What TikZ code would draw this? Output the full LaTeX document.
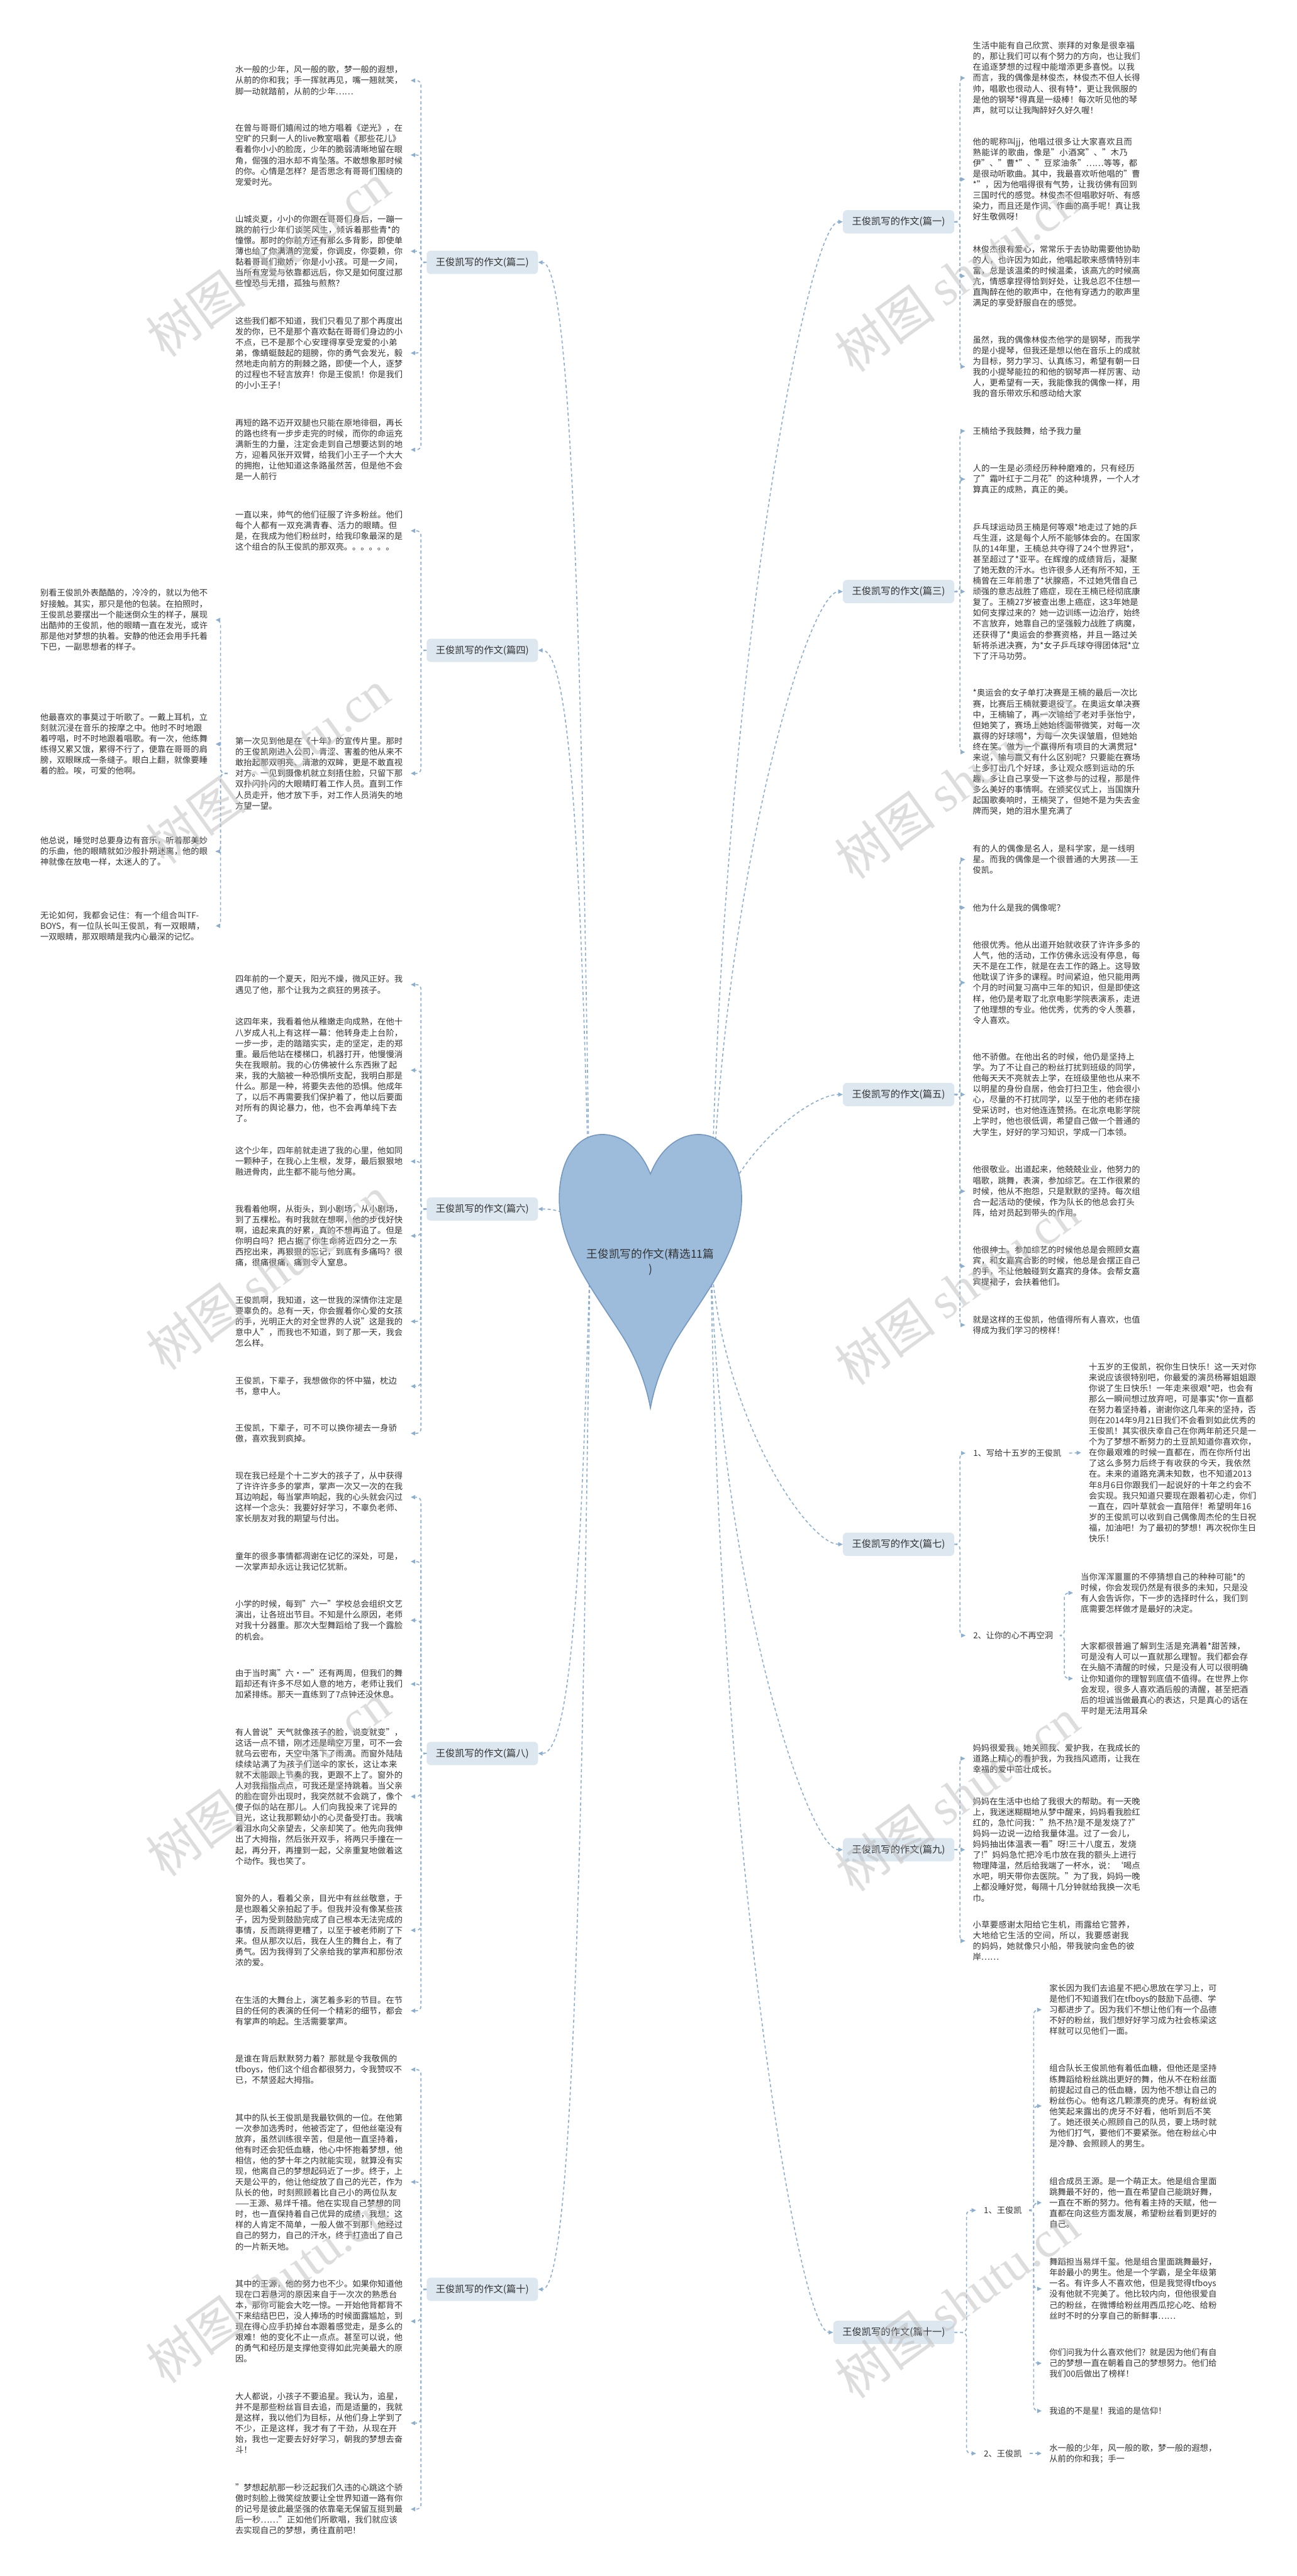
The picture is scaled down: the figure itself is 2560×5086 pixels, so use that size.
\documentclass[tikz,border=0pt]{standalone}
\usepackage{fontspec}
\setmainfont{Noto Sans CJK SC}
\newfontfamily\wmserif{Liberation Serif}
\XeTeXlinebreaklocale "zh"
\XeTeXlinebreakskip=0pt plus 1pt
\usetikzlibrary{arrows.meta,calc}
\definecolor{conncol}{HTML}{8DAFCF}
\definecolor{nodefill}{HTML}{DDE7F0}
\definecolor{heartfill}{HTML}{9DBCDB}
\definecolor{heartdraw}{HTML}{7598C0}
\definecolor{txtcol}{HTML}{333333}
\definecolor{wmcol}{HTML}{BDBDBD}
\tikzset{
  txt/.style={font=\fontsize{16.5pt}{21.2pt}\selectfont, text=txtcol, text width=331pt, align=left, inner xsep=15pt, inner ysep=2pt},
  sub/.style={font=\fontsize{16.5pt}{21.2pt}\selectfont, text=txtcol, inner xsep=15pt, inner ysep=4pt},
  branch/.style={fill=nodefill, rounded corners=8pt, font=\fontsize{19pt}{23pt}\selectfont, text=txtcol, inner xsep=18pt, minimum height=46pt},
  conn/.style={draw=conncol, line width=2pt, dash pattern=on 6pt off 5pt, rounded corners=9pt, -{Triangle[length=9pt,width=8pt]}},
  hconn/.style={draw=conncol, line width=2pt, dash pattern=on 6pt off 5pt, -{Triangle[length=9pt,width=8pt]}},
  wm/.style={text=wmcol, opacity=0.5, rotate=36, anchor=south west, font=\fontsize{100pt}{100pt}\selectfont},
}
\begin{document}
\begin{tikzpicture}[x=1pt,y=-1pt]
\useasboundingbox (0,0) rectangle (2560,5086);
\fill[white] (0,0) rectangle (2560,5086);

% ---------- branch nodes ----------
\node[branch, anchor=west] (n2) at (842,518) {王俊凯写的作文(篇二)};
\node[branch, anchor=west] (n4) at (842,1284) {王俊凯写的作文(篇四)};
\node[branch, anchor=west] (n6) at (842,2387) {王俊凯写的作文(篇六)};
\node[branch, anchor=west] (n8) at (842,3462) {王俊凯写的作文(篇八)};
\node[branch, anchor=west] (n10) at (842,4520) {王俊凯写的作文(篇十)};
\node[branch, anchor=east] (n1) at (1884,438) {王俊凯写的作文(篇一)};
\node[branch, anchor=east] (n3) at (1884,1168) {王俊凯写的作文(篇三)};
\node[branch, anchor=east] (n5) at (1884,2161) {王俊凯写的作文(篇五)};
\node[branch, anchor=east] (n7) at (1884,3049) {王俊凯写的作文(篇七)};
\node[branch, anchor=east] (n9) at (1884,3652) {王俊凯写的作文(篇九)};
\node[branch, anchor=east] (n11) at (1884,4605) {王俊凯写的作文(篇十一)};

% ---------- heart connectors ----------
\coordinate (hl) at (1165,2470);
\coordinate (hr) at (1403,2470);
\draw[hconn] (hl) .. controls (1150,1396) and ($(n2.east)+(70,0)$) .. (n2.east);
\draw[hconn] (hl) .. controls (1150,1818) and ($(n4.east)+(70,0)$) .. (n4.east);
\draw[hconn] (hl) .. controls (1150,2424) and ($(n6.east)+(70,0)$) .. (n6.east);
\draw[hconn] (hl) .. controls (1150,3016) and ($(n8.east)+(70,0)$) .. (n8.east);
\draw[hconn] (hl) .. controls (1150,3598) and ($(n10.east)+(70,0)$) .. (n10.east);
\draw[hconn] (hr) .. controls (1418,1352) and ($(n1.west)+(-70,0)$) .. (n1.west);
\draw[hconn] (hr) .. controls (1418,1754) and ($(n3.west)+(-70,0)$) .. (n3.west);
\draw[hconn] (hr) .. controls (1418,2300) and ($(n5.west)+(-70,0)$) .. (n5.west);
\draw[hconn] (hr) .. controls (1418,2788) and ($(n7.west)+(-70,0)$) .. (n7.west);
\draw[hconn] (hr) .. controls (1418,3120) and ($(n9.west)+(-70,0)$) .. (n9.west);
\draw[hconn] (hr) .. controls (1418,3644) and ($(n11.west)+(-70,0)$) .. (n11.west);

% ---------- heart ----------
\filldraw[fill=heartfill, draw=heartdraw, line width=2pt]
  (1284,2318) .. controls (1262,2262) and (1222,2238) .. (1185,2240)
  .. controls (1132,2243) and (1103,2300) .. (1104,2370)
  .. controls (1106,2470) and (1180,2560) .. (1230,2640)
  .. controls (1255,2680) and (1275,2730) .. (1284,2780)
  .. controls (1293,2730) and (1313,2680) .. (1338,2640)
  .. controls (1388,2560) and (1462,2470) .. (1464,2370)
  .. controls (1465,2300) and (1436,2243) .. (1383,2240)
  .. controls (1346,2238) and (1306,2262) .. (1284,2318) -- cycle;
\node[font=\fontsize{22pt}{30pt}\selectfont, text=txtcol, align=center] (root) at (1284,2492) {王俊凯写的作文(精选11篇\\)};

% ---------- 篇二 ----------
\node[txt] (b21) at (630,159) {水一般的少年，风一般的歌，梦一般的遐想，从前的你和我；手一挥就再见，嘴一翘就笑，脚一动就踏前，从前的少年……};
\node[txt] (b22) at (630,306) {在曾与哥哥们嬉闹过的地方唱着《逆光》，在空旷的只剩一人的live教室唱着《那些花儿》看着你小小的脸庞，少年的脆弱清晰地留在眼角，倔强的泪水却不肯坠落。不敢想象那时候的你。心情是怎样？是否思念有哥哥们围绕的宠爱时光。};
\node[txt] (b23) at (630,496) {山城炎夏，小小的你跟在哥哥们身后，一蹦一跳的前行少年们谈笑风生，倾诉着那些青*的憧憬。那时的你前方还有那么多背影，即使单薄也给了你满满的宠爱，你调皮，你耍赖，你黏着哥哥们撒娇，你是小小孩。可是一夕间，当所有宠爱与依靠都远后，你又是如何度过那些惶恐与无措，孤独与煎熬？};
\node[txt] (b24) at (630,697) {这些我们都不知道，我们只看见了那个再度出发的你，已不是那个喜欢黏在哥哥们身边的小不点，已不是那个心安理得享受宠爱的小弟弟，像蜻蜓鼓起的翅膀，你的勇气会发光，毅然地走向前方的荆棘之路，即使一个人，逐梦的过程也不轻言放弃！你是王俊凯！你是我们的小小王子！};
\node[txt] (b25) at (630,888) {再短的路不迈开双腿也只能在原地徘徊，再长的路也终有一步步走完的时候，而你的命运充满新生的力量，注定会走到自己想要达到的地方，迎着风张开双臂，给我们小王子一个大大的拥抱，让他知道这条路虽然苦，但是他不会是一人前行};
\foreach \c in {b21,b22,b23,b24,b25} \draw[conn] (n2.west) -- ++(-11,0) |- (\c.east);

% ---------- 篇四 ----------
\node[txt] (b41) at (630,1048) {一直以来，帅气的他们征服了许多粉丝。他们每个人都有一双充满青春、活力的眼睛。但是，在我成为他们粉丝时，给我印象最深的是这个组合的队王俊凯的那双亮。。。。。。};
\node[txt] (b42) at (630,1527) {第一次见到他是在《十年》的宣传片里。那时的王俊凯刚进入公司，青涩、害羞的他从来不敢抬起那双明亮、清澈的双眸，更是不敢直视对方。一见到摄像机就立刻捂住脸，只留下那双扑闪扑闪的大眼睛盯着工作人员。直到工作人员走开，他才放下手，对工作人员消失的地方望一望。};
\foreach \c in {b41,b42} \draw[conn] (n4.west) -- ++(-11,0) |- (\c.east);
\node[txt] (l1) at (245,1224) {别看王俊凯外表酷酷的，冷冷的，就以为他不好接触。其实，那只是他的包装。在拍照时，王俊凯总要摆出一个能迷倒众生的样子，展现出酷帅的王俊凯，他的眼睛一直在发光，或许那是他对梦想的执着。安静的他还会用手托着下巴，一副思想者的样子。};
\node[txt] (l2) at (245,1469) {他最喜欢的事莫过于听歌了。一戴上耳机，立刻就沉浸在音乐的按摩之中。他时不时地跟着哼唱，时不时地跟着唱歌。有一次，他练舞练得又累又饿，累得不行了，便靠在哥哥的肩膀，双眼眯成一条缝子。眼白上翻，就像要睡着的脸。唉，可爱的他啊。};
\node[txt] (l3) at (245,1681) {他总说，睡觉时总要身边有音乐，听着那美妙的乐曲，他的眼睛就如沙般扑朔迷离，他的眼神就像在放电一样，太迷人的了。};
\node[txt] (l4) at (245,1828) {无论如何，我都会记住：有一个组合叫TFBOYS，有一位队长叫王俊凯，有一双眼睛，一双眼睛，那双眼睛是我内心最深的记忆。};
\foreach \c in {l1,l2,l3,l4} \draw[conn] (b42.west) -- ++(-14,0) |- (\c.east);

% ---------- 篇六 ----------
\node[txt] (b61) at (630,1944) {四年前的一个夏天，阳光不燥，微风正好。我遇见了他，那个让我为之疯狂的男孩子。};
\node[txt] (b62) at (630,2113) {这四年来，我看着他从稚嫩走向成熟，在他十八岁成人礼上有这样一幕：他转身走上台阶，一步一步，走的踏踏实实，走的坚定，走的郑重。最后他站在楼梯口，机器打开，他慢慢消失在我眼前。我的心仿佛被什么东西揪了起来，我的大脑被一种恐惧所支配，我明白那是什么。那是一种，将要失去他的恐惧。他成年了，以后不再需要我们保护着了，他以后要面对所有的舆论暴力，他，也不会再单纯下去了。};
\node[txt] (b63) at (630,2293) {这个少年，四年前就走进了我的心里，他如同一颗种子，在我心上生根，发芽，最后狠狠地融进骨肉，此生都不能与他分离。};
\node[txt] (b64) at (630,2440) {我看着他啊，从街头，到小剧场，从小剧场，到了五棵松。有时我就在想啊，他的步伐好快啊，追起来真的好累，真的不想再追了。但是你明白吗？把占据了你生命将近四分之一东西挖出来，再狠狠的忘记，到底有多痛吗？很痛，很痛很痛，痛到令人窒息。};
\node[txt] (b65) at (630,2609) {王俊凯啊，我知道，这一世我的深情你注定是要辜负的。总有一天，你会握着你心爱的女孩的手，光明正大的对全世界的人说"这是我的意中人"，而我也不知道，到了那一天，我会怎么样。};
\node[txt] (b66) at (630,2737) {王俊凯，下辈子，我想做你的怀中猫，枕边书，意中人。};
\node[txt] (b67) at (630,2830) {王俊凯，下辈子，可不可以换你褪去一身骄傲，喜欢我到疯掉。};
\foreach \c in {b61,b62,b63,b64,b65,b66,b67} \draw[conn] (n6.west) -- ++(-11,0) |- (\c.east);

% ---------- 篇八 ----------
\node[txt] (b81) at (630,2956) {现在我已经是个十二岁大的孩子了，从中获得了许许许多多的掌声，掌声一次又一次的在我耳边响起，每当掌声响起，我的心头就会闪过这样一个念头：我要好好学习，不辜负老师、家长朋友对我的期望与付出。};
\node[txt] (b82) at (630,3083) {童年的很多事情都凋谢在记忆的深处，可是，一次掌声却永远让我记忆犹新。};
\node[txt] (b83) at (630,3199) {小学的时候，每到"六一"学校总会组织文艺演出，让各班出节目。不知是什么原因，老师对我十分器重。那次大型舞蹈给了我一个露脸的机会。};
\node[txt] (b84) at (630,3325) {由于当时离"六·一"还有两周，但我们的舞蹈却还有许多不尽如人意的地方，老师让我们加紧排练。那天一直练到了7点钟还没休息。};
\node[txt] (b85) at (630,3547) {有人曾说"天气就像孩子的脸，说变就变"，这话一点不错，刚才还是晴空万里，可不一会就乌云密布，天空中落下了雨滴。而窗外陆陆续续站满了为孩子们送伞的家长，这让本来就不太能跟上节奏的我，更跟不上了。窗外的人对我指指点点，可我还是坚持跳着。当父亲的脸在窗外出现时，我突然就不会跳了，像个傻子似的站在那儿。人们向我投来了诧异的目光，这让我那颗幼小的心灵备受打击。我噙着泪水向父亲望去，父亲却笑了。他先向我伸出了大拇指，然后张开双手，将两只手撞在一起，再分开，再撞到一起，父亲重复地做着这个动作。我也笑了。};
\node[txt] (b86) at (630,3811) {窗外的人，看着父亲，目光中有丝丝敬意，于是也跟着父亲拍起了手。但我并没有像某些孩子，因为受到鼓励完成了自己根本无法完成的事情，反而跳得更糟了，以至于被老师刷了下来。但从那次以后，我在人生的舞台上，有了勇气。因为我得到了父亲给我的掌声和那份浓浓的爱。};
\node[txt] (b87) at (630,3970) {在生活的大舞台上，演艺着多彩的节目。在节目的任何的表演的任何一个精彩的细节，都会有掌声的响起。生活需要掌声。};
\foreach \c in {b81,b82,b83,b84,b85,b86,b87} \draw[conn] (n8.west) -- ++(-11,0) |- (\c.east);

% ---------- 篇十 ----------
\node[txt] (b101) at (630,4086) {是谁在背后默默努力着？那就是令我敬佩的tfboys，他们这个组合都很努力，令我赞叹不已，不禁竖起大拇指。};
\node[txt] (b102) at (630,4308) {其中的队长王俊凯是我最钦佩的一位。在他第一次参加选秀时，他被否定了，但他丝毫没有放弃，虽然训练很辛苦，但是他一直坚持着，他有时还会犯低血糖，他心中怀抱着梦想，他相信，他的梦十年之内就能实现，就算没有实现，他离自己的梦想起码近了一步。终于，上天是公平的，他让他绽放了自己的光芒，作为队长的他，时刻照顾着比自己小的两位队友——王源、易烊千禧。他在实现自己梦想的同时，也一直保持着自己优异的成绩，我想：这样的人肯定不简单，一般人做不到那！他经过自己的努力，自己的汗水，终于打造出了自己的一片新天地。};
\node[txt] (b103) at (630,4583) {其中的王源，他的努力也不少。如果你知道他现在口若悬河的原因来自于一次次的熟悉台本，那你可能会大吃一惊。一开始他背都背不下来结结巴巴，没人捧场的时候面露尴尬，到现在得心应手扔掉台本跟着感觉走，是多么的艰难！他的变化不止一点点。甚至可以说，他的勇气和经历是支撑他变得如此完美最大的原因。};
\node[txt] (b104) at (630,4784) {大人都说，小孩子不要追星。我认为，追星，并不是那些粉丝盲目去追，而是适量的，我就是这样，我以他们为目标，从他们身上学到了不少，正是这样，我才有了干劲，从现在开始，我也一定要去好好学习，朝我的梦想去奋斗！};
\node[txt] (b105) at (630,4954) {"梦想起航那一秒泛起我们久违的心跳这个骄傲时刻脸上微笑绽放要让全世界知道一路有你的记号是彼此最坚强的依靠毫无保留互挺到最后一秒……"正如他们所歌唱，我们就应该去实现自己的梦想，勇往直前吧！};
\foreach \c in {b101,b102,b103,b104,b105} \draw[conn] (n10.west) -- ++(-11,0) |- (\c.east);

% ---------- 篇一 ----------
\node[txt] (b11) at (2086,154) {生活中能有自己欣赏、崇拜的对象是很幸福的，那让我们可以有个努力的方向，也让我们在追逐梦想的过程中能增添更多喜悦。以我而言，我的偶像是林俊杰，林俊杰不但人长得帅，唱歌也很动人、很有特*，更让我佩服的是他的钢琴*得真是一级棒！每次听见他的琴声，就可以让我陶醉好久好久喔！};
\node[txt] (b12) at (2086,354) {他的昵称叫jj，他唱过很多让大家喜欢且而熟能详的歌曲，像是"小酒窝"、"木乃伊"、"曹*"、"豆浆油条"……等等，都是很动听歌曲。其中，我最喜欢听他唱的"曹*"，因为他唱得很有气势，让我彷佛有回到三国时代的感觉。林俊杰不但唱歌好听、有感染力，而且还是作词、作曲的高手呢！真让我好生敬佩呀！};
\node[txt] (b13) at (2086,545) {林俊杰很有爱心，常常乐于去协助需要他协助的人，也许因为如此，他唱起歌来感情特别丰富，总是该温柔的时候温柔，该高亢的时候高亢，情感拿捏得恰到好处，让我总忍不住想一直陶醉在他的歌声中，在他有穿透力的歌声里满足的享受舒服自在的感觉。};
\node[txt] (b14) at (2086,724) {虽然，我的偶像林俊杰他学的是钢琴，而我学的是小提琴，但我还是想以他在音乐上的成就为目标，努力学习、认真练习，希望有朝一日我的小提琴能拉的和他的钢琴声一样厉害、动人，更希望有一天，我能像我的偶像一样，用我的音乐带欢乐和感动给大家};
\foreach \c in {b11,b12,b13,b14} \draw[conn] (n1.east) -- ++(11,0) |- (\c.west);

% ---------- 篇三 ----------
\node[txt] (b31) at (2086,851) {王楠给予我鼓舞，给予我力量};
\node[txt] (b32) at (2086,946) {人的一生是必须经历种种磨难的，只有经历了"霜叶红于二月花"的这种境界，一个人才算真正的成熟，真正的美。};
\node[txt] (b33) at (2086,1168) {乒乓球运动员王楠是何等艰*地走过了她的乒乓生涯，这是每个人所不能够体会的。在国家队的14年里，王楠总共夺得了24个世界冠*，甚至超过了*亚平。在辉煌的成绩背后，凝聚了她无数的汗水。也许很多人还有所不知，王楠曾在三年前患了*状腺癌，不过她凭借自己顽强的意志战胜了癌症，现在王楠已经彻底康复了。王楠27岁被查出患上癌症，这3年她是如何支撑过来的？她一边训练一边治疗，始终不言放弃，她靠自己的坚强毅力战胜了病魔，还获得了*奥运会的参赛资格，并且一路过关斩将杀进决赛，为*女子乒乓球夺得团体冠*立下了汗马功劳。};
\node[txt] (b34) at (2086,1485) {*奥运会的女子单打决赛是王楠的最后一次比赛，比赛后王楠就要退役了。在奥运女单决赛中，王楠输了，再一次输给了老对手张怡宁，但她笑了，赛场上她始终面带微笑，对每一次赢得的好球喝*，为每一次失误皱眉，但她始终在笑。做为一个赢得所有项目的大满贯冠*来说，输与赢又有什么区别呢？只要能在赛场上多打出几个好球，多让观众感到运动的乐趣，多让自己享受一下这参与的过程，那是件多么美好的事情啊。在颁奖仪式上，当国旗升起国歌奏响时，王楠哭了，但她不是为失去金牌而哭，她的泪水里充满了};
\foreach \c in {b31,b32,b33,b34} \draw[conn] (n3.east) -- ++(11,0) |- (\c.west);

% ---------- 篇五 ----------
\node[txt] (b51) at (2086,1697) {有的人的偶像是名人，是科学家，是一线明星。而我的偶像是一个很普通的大男孩——王俊凯。};
\node[txt] (b52) at (2086,1792) {他为什么是我的偶像呢？};
\node[txt] (b53) at (2086,1940) {他很优秀。他从出道开始就收获了许许多多的人气，他的活动，工作仿佛永远没有停息，每天不是在工作，就是在去工作的路上。这导致他耽误了许多的课程。时间紧迫，他只能用两个月的时间复习高中三年的知识，但是即使这样，他仍是考取了北京电影学院表演系，走进了他理想的专业。他优秀，优秀的令人羡慕，令人喜欢。};
\node[txt] (b54) at (2086,2161) {他不骄傲。在他出名的时候，他仍是坚持上学。为了不让自己的粉丝打扰到班级的同学，他每天天不亮就去上学，在班级里他也从来不以明星的身份自居，他会打扫卫生，他会很小心，尽量的不打扰同学，以至于他的老师在接受采访时，也对他连连赞扬。在北京电影学院上学时，他也很低调，希望自己做一个普通的大学生，好好的学习知识，学成一门本领。};
\node[txt] (b55) at (2086,2352) {他很敬业。出道起来，他兢兢业业，他努力的唱歌，跳舞，表演，参加综艺。在工作很累的时候，他从不抱怨，只是默默的坚持。每次组合一起活动的使候，作为队长的他总会打头阵，给对员起到带头的作用。};
\node[txt] (b56) at (2086,2500) {他很绅士。参加综艺的时候他总是会照顾女嘉宾，和女嘉宾合影的时候，他总是会摆正自己的手，不让他触碰到女嘉宾的身体。会帮女嘉宾提裙子，会扶着他们。};
\node[txt] (b57) at (2086,2616) {就是这样的王俊凯，他值得所有人喜欢，也值得成为我们学习的榜样！};
\foreach \c in {b51,b52,b53,b54,b55,b56,b57} \draw[conn] (n5.east) -- ++(11,0) |- (\c.west);

% ---------- 篇七 ----------
\node[sub, anchor=west] (s71) at (1906,2869) {1、写给十五岁的王俊凯};
\node[sub, anchor=west] (s72) at (1906,3229) {2、让你的心不再空洞};
\foreach \c in {s71,s72} \draw[conn] (n7.east) -- ++(11,0) |- (\c.west);
\node[txt] (t71) at (2315,2868) {十五岁的王俊凯，祝你生日快乐！这一天对你来说应该很特别吧，你最爱的演员杨幂姐姐跟你说了生日快乐！一年走来很艰*吧，也会有那么一瞬间想过放弃吧，可是事实*你一直都在努力着坚持着，谢谢你这几年来的坚持，否则在2014年9月21日我们不会看到如此优秀的王俊凯！其实很庆幸自己在你两年前还只是一个为了梦想不断努力的土豆凯知道你喜欢你，在你最艰难的时候一直都在，而在你所付出了这么多努力后终于有收获的今天，我依然在。未来的道路充满未知数，也不知道2013年8月6日你跟我们一起说好的十年之约会不会实现。我只知道只要现在跟着初心走，你们一直在，四叶草就会一直陪伴！希望明年16岁的王俊凯可以收到自己偶像周杰伦的生日祝福，加油吧！为了最初的梦想！再次祝你生日快乐！};
\draw[conn] (s71.east) -- (t71.west);
\node[txt] (t72a) at (2299,3145) {当你浑浑噩噩的不停猜想自己的种种可能*的时候，你会发现仍然是有很多的未知，只是没有人会告诉你，下一步的选择时什么，我们到底需要怎样做才是最好的决定。};
\node[txt] (t72b) at (2299,3314) {大家都很普遍了解到生活是充满着*甜苦辣，可是没有人可以一直就那么理智。我们都会存在头脑不清醒的时候，只是没有人可以很明确让你知道你的理智到底值不值得。在世界上你会发现，很多人喜欢酒后般的清醒，甚至把酒后的坦诚当做最真心的表达，只是真心的话在平时是无法用耳朵};
\foreach \c in {t72a,t72b} \draw[conn] (s72.east) -- ++(7,0) |- (\c.west);

% ---------- 篇九 ----------
\node[txt] (b91) at (2086,3472) {妈妈很爱我，她关照我、爱护我，在我成长的道路上精心的看护我，为我挡风遮雨，让我在幸福的爱中茁壮成长。};
\node[txt] (b92) at (2086,3652) {妈妈在生活中也给了我很大的帮助。有一天晚上，我迷迷糊糊地从梦中醒来，妈妈看我脸红红的，急忙问我："热不热?是不是发烧了?"妈妈一边说一边给我量体温。过了一会儿，妈妈抽出体温表一看"呀!三十八度五，发烧了!"妈妈急忙把冷毛巾放在我的额头上进行物理降温，然后给我端了一杯水，说：‘喝点水吧，明天带你去医院。"为了我，妈妈一晚上都没睡好觉，每隔十几分钟就给我换一次毛巾。};
\node[txt] (b93) at (2086,3832) {小草要感谢太阳给它生机，雨露给它营养，大地给它生活的空间，所以，我要感谢我的妈妈，她就像只小船，带我驶向金色的彼岸……};
\foreach \c in {b91,b92,b93} \draw[conn] (n9.east) -- ++(11,0) |- (\c.west);

% ---------- 篇十一 ----------
\node[sub, anchor=west] (s111) at (1927,4364) {1、王俊凯};
\node[sub, anchor=west] (s112) at (1927,4844) {2、王俊凯};
\foreach \c in {s111,s112} \draw[conn] (n11.east) -- ++(24,0) |- (\c.west);
\node[txt] (t111) at (2237,3968) {家长因为我们去追星不把心思放在学习上，可是他们不知道我们在tfboys的鼓励下品德、学习都进步了。因为我们不想让他们有一个品德不好的粉丝，我们想好好学习成为社会栋梁这样就可以见他们一面。};
\node[txt] (t112) at (2237,4158) {组合队长王俊凯他有着低血糖，但他还是坚持练舞蹈给粉丝跳出更好的舞，他从不在粉丝面前提起过自己的低血糖，因为他不想让自己的粉丝伤心。他有这几颗漂亮的虎牙。有粉丝说他笑起来露出的虎牙不好看，他听到后不笑了。她还很关心照顾自己的队员，要上场时就为他们打气，要他们不要紧张。他在粉丝心中是冷静、会照顾人的男生。};
\node[txt] (t113) at (2237,4349) {组合成员王源。是一个萌正太。他是组合里面跳舞最不好的，他一直在希望自己能跳好舞，一直在不断的努力。他有着主持的天赋，他一直都在向这些方面发展，希望粉丝看到更好的自己。};
\node[txt] (t114) at (2237,4519) {舞蹈担当易烊千玺。他是组合里面跳舞最好，年龄最小的男生。他是一个学霸，是全年级第一名。有许多人不喜欢他，但是我觉得tfboys没有他就不完美了。他比较内向，但他很爱自己的粉丝，在微博给粉丝用西瓜挖心吃、给粉丝时不时的分享自己的新鲜事……};
\node[txt] (t115) at (2237,4666) {你们问我为什么喜欢他们？就是因为他们有自己的梦想一直在朝着自己的梦想努力。他们给我们00后做出了榜样！};
\node[txt] (t116) at (2237,4760) {我追的不是星！我追的是信仰！};
\foreach \c in {t111,t112,t113,t114,t115,t116} \draw[conn] (s111.east) -- ++(8,0) |- (\c.west);
\node[txt] (t117) at (2237,4844) {水一般的少年，风一般的歌，梦一般的遐想，从前的你和我；手一};
\draw[conn] (s112.east) -- (t117.west);

% ---------- watermarks ----------
\foreach \yy in {720,1720,2720,3720,4720} \node[wm] at (330,\yy) {树图 {\wmserif shutu.cn}};
\foreach \yy in {750,1750,2750,3750,4750} \node[wm] at (1690,\yy) {树图 {\wmserif shutu.cn}};
\end{tikzpicture}
\end{document}
